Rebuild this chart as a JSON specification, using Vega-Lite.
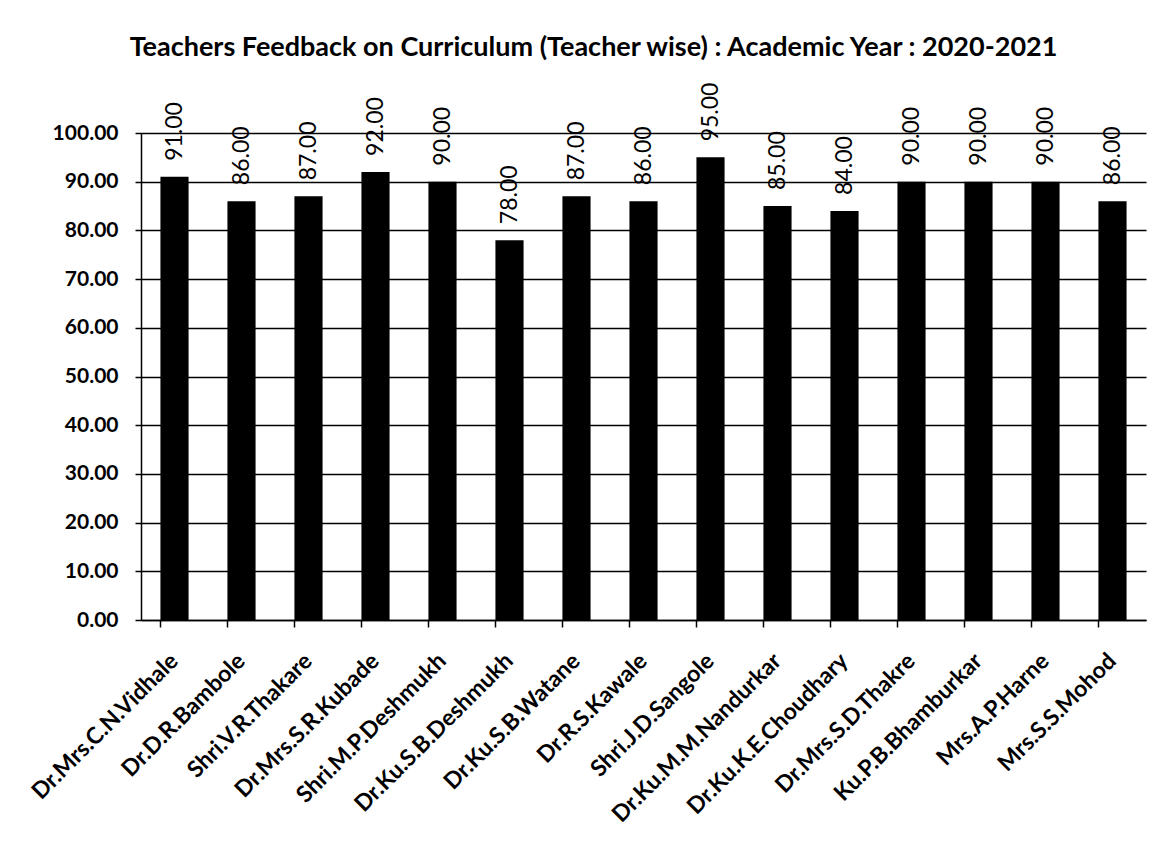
{
  "$schema": "https://vega.github.io/schema/vega-lite/v6.json",
  "width": 1005,
  "height": 487,
  "autosize": "none",
  "padding": {"left": 141, "top": 133, "right": 25, "bottom": 243},
  "background": "white",
  "title": {
    "text": "Teachers Feedback on Curriculum (Teacher wise) : Academic Year : 2020-2021",
    "font": "Lato",
    "fontSize": 27,
    "fontWeight": "bold",
    "color": "black",
    "anchor": "middle",
    "frame": "group",
    "dx": -50,
    "offset": 21
  },
  "data": {
    "values": [
      {"teacher": "Dr.Mrs.C.N.Vidhale", "score": 91},
      {"teacher": "Dr.D.R.Bambole", "score": 86},
      {"teacher": "Shri.V.R.Thakare", "score": 87},
      {"teacher": "Dr.Mrs.S.R.Kubade", "score": 92},
      {"teacher": "Shri.M.P.Deshmukh", "score": 90},
      {"teacher": "Dr.Ku.S.B.Deshmukh", "score": 78},
      {"teacher": "Dr.Ku.S.B.Watane", "score": 87},
      {"teacher": "Dr.R.S.Kawale", "score": 86},
      {"teacher": "Shri.J.D.Sangole", "score": 95},
      {"teacher": "Dr.Ku.M.M.Nandurkar", "score": 85},
      {"teacher": "Dr.Ku.K.E.Choudhary", "score": 84},
      {"teacher": "Dr.Mrs.S.D.Thakre", "score": 90},
      {"teacher": "Ku.P.B.Bhamburkar", "score": 90},
      {"teacher": "Mrs.A.P.Harne", "score": 90},
      {"teacher": "Mrs.S.S.Mohod", "score": 86}
    ]
  },
  "encoding": {
    "x": {
      "field": "teacher",
      "type": "nominal",
      "sort": null,
      "title": null,
      "scale": {"paddingInner": 0.58, "paddingOuter": 0.29},
      "axis": {
        "labelAngle": -45,
        "labelAlign": "right",
        "labelBaseline": "middle",
        "labelFont": "Lato",
        "labelFontSize": 23,
        "labelFontWeight": "bold",
        "labelColor": "black",
        "labelPadding": 30,
        "labelLimit": 400,
        "bandPosition": 0,
        "tickColor": "black",
        "tickSize": 7,
        "tickWidth": 1.5,
        "domainColor": "black",
        "domainWidth": 1.5,
        "grid": false
      }
    },
    "y": {
      "field": "score",
      "type": "quantitative",
      "title": null,
      "scale": {"domain": [0, 100], "nice": false},
      "axis": {
        "values": [0, 10, 20, 30, 40, 50, 60, 70, 80, 90, 100],
        "format": ".2f",
        "labelFont": "Lato",
        "labelFontSize": 21,
        "labelFontWeight": "bold",
        "labelColor": "black",
        "labelPadding": 17,
        "tickColor": "black",
        "tickSize": 6,
        "tickWidth": 1.5,
        "domainColor": "black",
        "domainWidth": 1.5,
        "grid": true,
        "gridColor": "black",
        "gridWidth": 1.5,
        "gridOpacity": 1
      }
    }
  },
  "layer": [
    {"mark": {"type": "bar", "color": "black"}},
    {
      "mark": {
        "type": "text",
        "angle": 270,
        "align": "left",
        "baseline": "middle",
        "dx": 16,
        "font": "Lato",
        "fontSize": 23,
        "color": "black"
      },
      "encoding": {"text": {"field": "score", "type": "quantitative", "format": ".2f"}}
    }
  ],
  "config": {"view": {"stroke": null}}
}
